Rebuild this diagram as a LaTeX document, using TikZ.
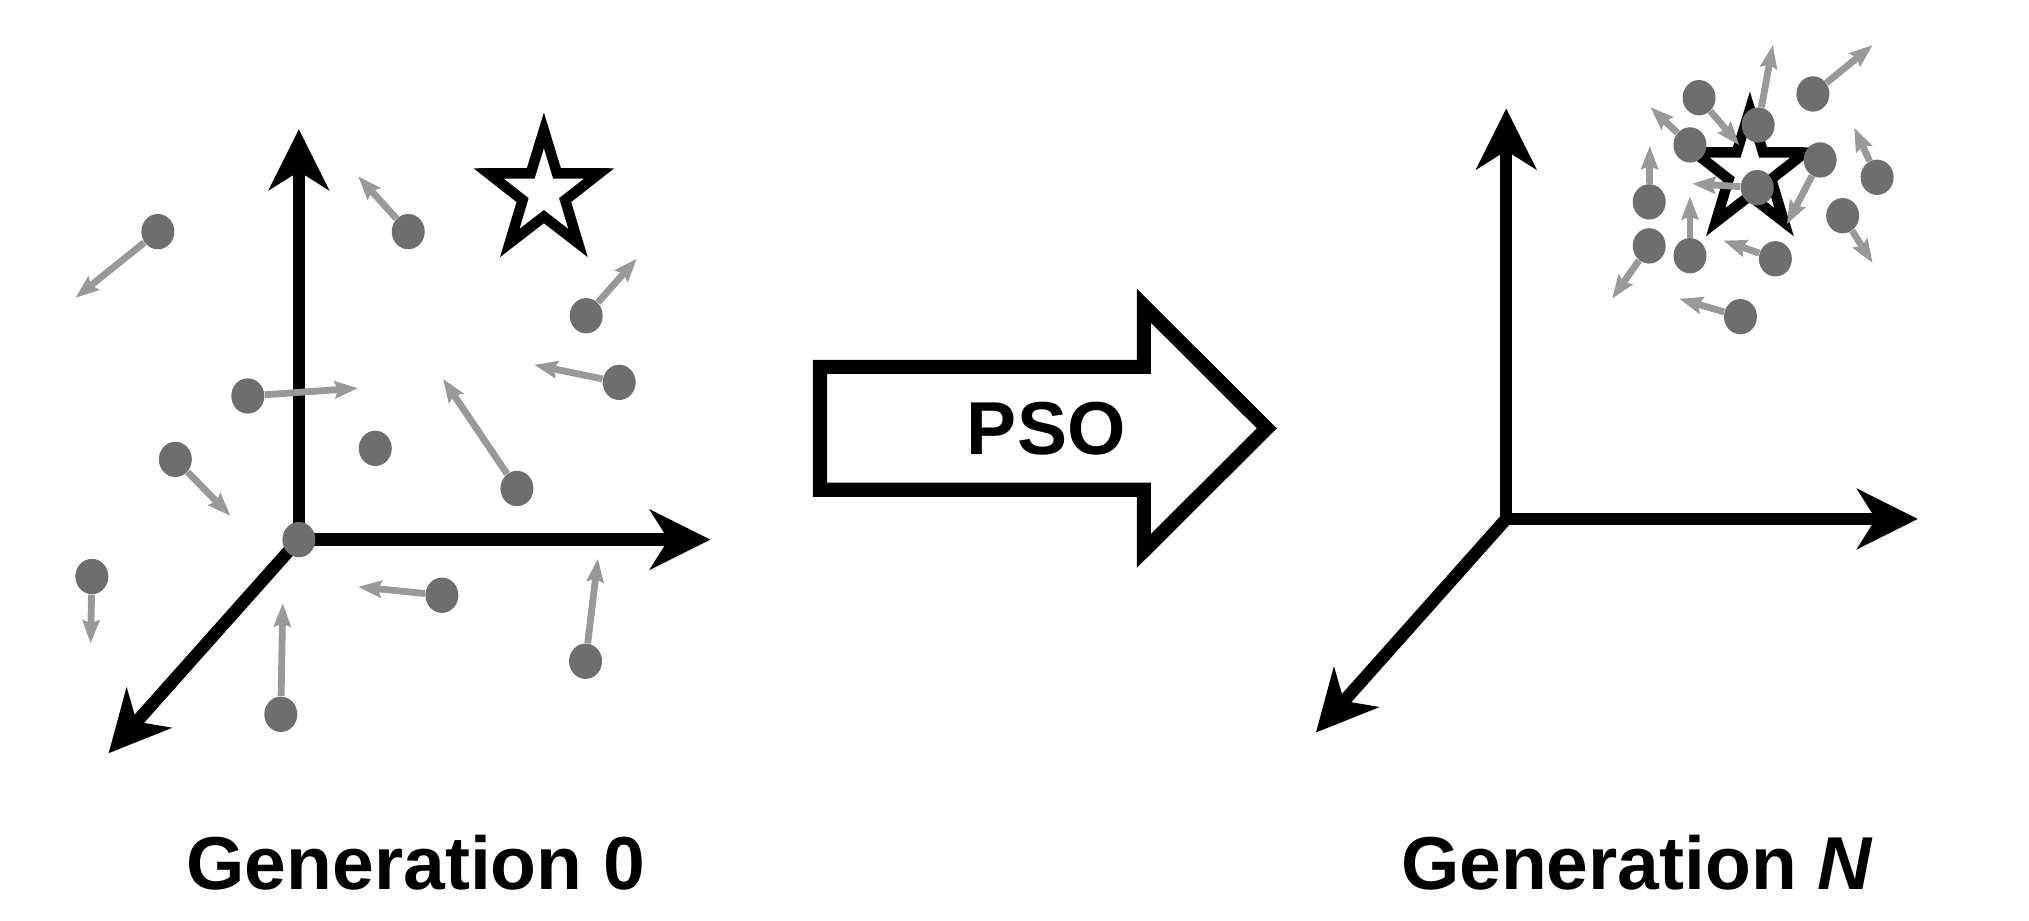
\documentclass[tikz,border=0pt]{standalone}
\usepackage{fontspec}
\setmainfont{Liberation Sans}
\usepackage{tikz}
\usetikzlibrary{shapes.geometric, arrows.meta}
\definecolor{dotgray}{RGB}{110,110,110}
\definecolor{velgray}{RGB}{153,153,153}
\tikzset{
    particle/.style={ellipse, fill=dotgray, minimum width=0.51cm, minimum height=0.546cm, inner sep=0pt},
    velocity/.style={draw=velgray, line width=3pt, -{Stealth[length=10.4pt, width=8pt, inset=1.7pt, line width=0pt]}},
    axis/.style={line width=5.5pt, -{Stealth[length=27pt, width=27pt, inset=8.5pt, line width=0pt]}},
    optimum/.style={star, star points=5, star point ratio=2.6, minimum size=1.925cm, inner sep=0pt, draw, line width=4.6pt, xscale=0.934},
    bigarrow/.style={draw, line width=6.2pt},
    caption/.style={font=\bfseries\fontsize{33}{40}\selectfont, anchor=base}
}

\begin{document}
\begin{tikzpicture}[x=0.02cm, y=-0.02cm]
  \useasboundingbox (0,0) rectangle (1568,711);
  % generation 0
  \coordinate (o0) at (231,417);
  \coordinate (x0) at (549,417);
  \coordinate (y0) at (231,100);
  \coordinate (z0) at (84,582);
  \draw[axis] (o0) -- (y0);
  \draw[axis] (o0) -- (x0);
  \draw[axis] (o0) -- (z0);
  \node[optimum] (best0) at (420.3,148.9) {};
  \node[particle] (a1) at (122,179) {};
  \node[particle] (a2) at (315.5,179) {};
  \node[particle] (a3) at (453,244) {};
  \node[particle] (a4) at (478.5,295.5) {};
  \node[particle] (a5) at (191.5,306) {};
  \node[particle] (a6) at (290,346.5) {};
  \node[particle] (a7) at (399.5,377.5) {};
  \node[particle] (a8) at (135.5,355) {};
  \node[particle] (a9) at (o0) {};
  \node[particle] (a10) at (71,445.5) {};
  \node[particle] (a11) at (341.5,460) {};
  \node[particle] (a12) at (452.5,511) {};
  \node[particle] (a13) at (217,552) {};
  \coordinate (va1) at (58.5,230);
  \coordinate (va2) at (277,136.5);
  \coordinate (va3) at (492,200);
  \coordinate (va4) at (413,282);
  \coordinate (va5) at (276.5,300);
  \coordinate (va7) at (342.5,293);
  \coordinate (va8) at (178,398.5);
  \coordinate (va10) at (70,497);
  \coordinate (va11) at (277,453.5);
  \coordinate (va12) at (462,432);
  \coordinate (va13) at (218.5,466.5);
  \draw[velocity] (a1) -- (va1);
  \draw[velocity] (a2) -- (va2);
  \draw[velocity] (a3) -- (va3);
  \draw[velocity] (a4) -- (va4);
  \draw[velocity] (a5) -- (va5);
  \draw[velocity] (a7) -- (va7);
  \draw[velocity] (a8) -- (va8);
  \draw[velocity] (a10) -- (va10);
  \draw[velocity] (a11) -- (va11);
  \draw[velocity] (a12) -- (va12);
  \draw[velocity] (a13) -- (va13);
  \node[caption] (gen0) at (321.4,687.2) {Generation 0};

  % PSO step
  \draw[bigarrow] (633.7,283.5) -- (884,283.5) -- (884,236.3) -- (979,331)
    -- (884,425.7) -- (884,378.5) -- (633.7,378.5) -- cycle;
  \node[caption] (pso) at (808.5,351) {PSO};

  % generation N
  \coordinate (oN) at (1164,401);
  \coordinate (xN) at (1482,401);
  \coordinate (yN) at (1164,84);
  \coordinate (zN) at (1017,566);
  \draw[axis] (oN) -- (yN);
  \draw[axis] (oN) -- (xN);
  \draw[axis] (oN) -- (zN);
  \node[optimum] (bestN) at (1352.3,132.7) {};
  \node[particle] (b1) at (1313,75.5) {};
  \node[particle] (b2) at (1401,72.6) {};
  \node[particle] (b3) at (1358.7,96.6) {};
  \node[particle] (b4) at (1306,112) {};
  \node[particle] (b5) at (1406.6,123.6) {};
  \node[particle] (b6) at (1450.6,137) {};
  \node[particle] (b7) at (1358,145) {};
  \node[particle] (b8) at (1274.5,156) {};
  \node[particle] (b9) at (1424,166.7) {};
  \node[particle] (b10) at (1274.5,190) {};
  \node[particle] (b11) at (1306,197.6) {};
  \node[particle] (b12) at (1372,200) {};
  \node[particle] (b13) at (1345,244.7) {};
  \coordinate (vb1) at (1344,112);
  \coordinate (vb2) at (1447,35);
  \coordinate (vb3) at (1370,35);
  \coordinate (vb4) at (1275.6,83);
  \coordinate (vb5) at (1381,173);
  \coordinate (vb6) at (1433,99);
  \coordinate (vb7) at (1308,142);
  \coordinate (vb8) at (1275,113);
  \coordinate (vb9) at (1447,203);
  \coordinate (vb10) at (1246,230.5);
  \coordinate (vb11) at (1306,152);
  \coordinate (vb12) at (1332,186);
  \coordinate (vb13) at (1298,231);
  \draw[velocity] (b1) -- (vb1);
  \draw[velocity] (b2) -- (vb2);
  \draw[velocity] (b3) -- (vb3);
  \draw[velocity] (b4) -- (vb4);
  \draw[velocity] (b5) -- (vb5);
  \draw[velocity] (b6) -- (vb6);
  \draw[velocity] (b7) -- (vb7);
  \draw[velocity] (b8) -- (vb8);
  \draw[velocity] (b9) -- (vb9);
  \draw[velocity] (b10) -- (vb10);
  \draw[velocity] (b11) -- (vb11);
  \draw[velocity] (b12) -- (vb12);
  \draw[velocity] (b13) -- (vb13);
  \node[caption] (genN) at (1265.2,687.2) {Generation \textit{N}};
\end{tikzpicture}
\end{document}
